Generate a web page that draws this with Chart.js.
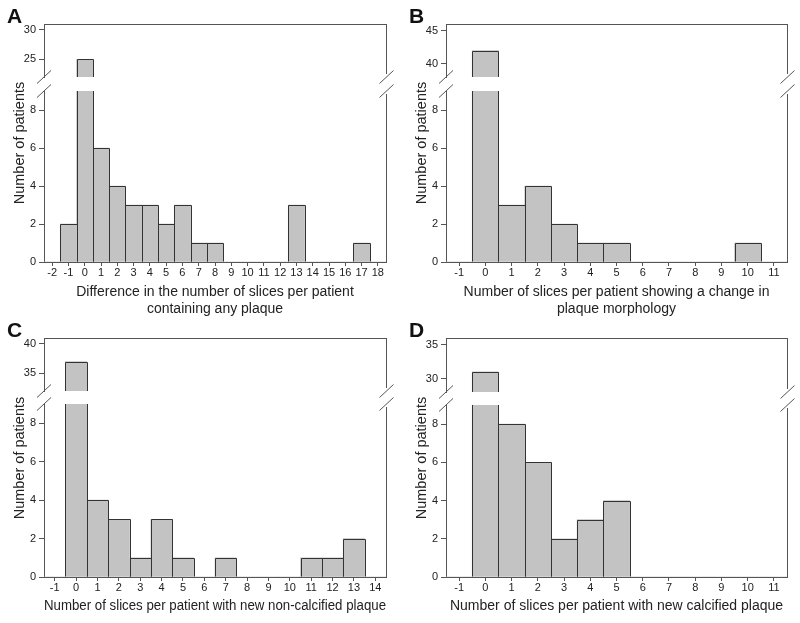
<!DOCTYPE html>
<html>
<head>
<meta charset="utf-8">
<script src="https://cdn.jsdelivr.net/npm/chart.js@4.4.1/dist/chart.umd.min.js"></script>
<style>
  body { margin: 0; background: #fff; }
  #page { position: relative; width: 800px; height: 623px; overflow: hidden; font-family: "Liberation Sans", Arial, sans-serif; }
  canvas { position: absolute; }
  .letter { position: absolute; font-size: 21px; font-weight: bold; line-height: 21px; color: #111; }
  .ytitle { position: absolute; font-size: 14.5px; color: #222; white-space: nowrap; transform: translate(-50%, -50%) rotate(-90deg); }
</style>
</head>
<body>
<div id="page"></div>
<script>
// Histograms of slice counts per patient, four panels with broken y axes

// Panel A
const binsA = ['-2', '-1', '0', '1', '2', '3', '4', '5', '6', '7', '8', '9', '10', '11', '12', '13', '14', '15', '16', '17', '18'];
const patientsA = [0, 2, 25, 6, 4, 3, 3, 2, 3, 1, 1, 0, 0, 0, 0, 3, 0, 0, 0, 1, 0];
const titleA = ['Difference in the number of slices per patient', 'containing any plaque'];

// Panel B
const binsB = ['-1', '0', '1', '2', '3', '4', '5', '6', '7', '8', '9', '10', '11'];
const patientsB = [0, 42, 3, 4, 2, 1, 1, 0, 0, 0, 0, 1, 0];
const titleB = ['Number of slices per patient showing a change in', 'plaque morphology'];

// Panel C
const binsC = ['-1', '0', '1', '2', '3', '4', '5', '6', '7', '8', '9', '10', '11', '12', '13', '14'];
const patientsC = [0, 37, 4, 3, 1, 3, 1, 0, 1, 0, 0, 0, 1, 1, 2, 0];
const titleC = 'Number of slices per patient with new non-calcified plaque';

// Panel D
const binsD = ['-1', '0', '1', '2', '3', '4', '5', '6', '7', '8', '9', '10', '11'];
const patientsD = [0, 31, 8, 6, 2, 3, 4, 0, 0, 0, 0, 0, 0];
const titleD = 'Number of slices per patient with new calcified plaque';

const yTitle = 'Number of patients';

const FILL = '#c3c3c3';
const EDGE = '#333333';
const AXIS = '#555555';
const TEXT = '#222222';
const FONT = '"Liberation Sans", Arial, sans-serif';

const Y_W = 40;   // fixed width of the y axis area
const PAD_R = 10; // room for the break marks on the right
const PAD_V = 8;  // room for the break marks above/below

// frame lines (top / right) and the // break marks
const framePlugin = {
  id: 'panelFrame',
  afterDraw(chart, args, o) {
    const c = chart.ctx;
    const a = chart.chartArea;
    const rx = Math.round(a.right) + 0.5;
    c.save();
    c.strokeStyle = AXIS;
    c.lineWidth = 1;
    c.beginPath();
    let y;
    if (o.part === 'upper') {
      c.moveTo(a.left, a.top + 0.5);
      c.lineTo(rx, a.top + 0.5);
      c.moveTo(rx, a.top);
      c.lineTo(rx, a.bottom - 3);
      y = a.bottom;
    } else {
      c.moveTo(rx, a.top + 3);
      c.lineTo(rx, a.bottom);
      y = a.top;
    }
    [a.left, rx].forEach(x => {
      c.moveTo(x - 7, y + 6.5);
      c.lineTo(x + 7, y - 6.5);
    });
    c.stroke();
    c.restore();
  }
};

// crisp 1px outlines on the bars, snapped to the pixel grid
const outlinePlugin = {
  id: 'barOutline',
  afterDatasetsDraw(chart) {
    const c = chart.ctx;
    const a = chart.chartArea;
    const values = chart.data.datasets[0].data;
    c.save();
    c.beginPath();
    c.rect(a.left, a.top, a.right - a.left, a.bottom - a.top);
    c.clip();
    c.strokeStyle = EDGE;
    c.lineWidth = 1;
    chart.getDatasetMeta(0).data.forEach((bar, i) => {
      if (!values[i]) return;
      const p = bar.getProps(['x', 'y', 'base', 'width'], true);
      const x0 = Math.round(p.x - p.width / 2) + 0.5;
      const x1 = Math.round(p.x + p.width / 2) + 0.5;
      const yt = Math.round(p.y) + 0.5;
      c.beginPath();
      c.moveTo(x0, p.base);
      c.lineTo(x0, yt);
      c.lineTo(x1, yt);
      c.lineTo(x1, p.base);
      c.stroke();
    });
    c.restore();
  }
};

function barSet(counts) {
  return {
    data: counts,
    backgroundColor: FILL,
    borderWidth: 0,
    barPercentage: 1,
    categoryPercentage: 1,
    clip: 0
  };
}

function yScale(min, max, step) {
  return {
    min: min,
    max: max,
    border: { color: AXIS },
    grid: { drawOnChartArea: false, tickLength: 5, color: AXIS },
    ticks: { stepSize: step, includeBounds: false, color: TEXT, padding: 3, font: { family: FONT, size: 11 } },
    afterFit: s => { s.width = Y_W; s.paddingTop = 0; s.paddingBottom = 0; }
  };
}

function addCanvas(left, top, w, h) {
  const cv = document.createElement('canvas');
  cv.width = w;
  cv.height = h;
  cv.style.left = left + 'px';
  cv.style.top = top + 'px';
  cv.style.width = w + 'px';
  cv.style.height = h + 'px';
  document.getElementById('page').appendChild(cv);
  return cv.getContext('2d');
}

function addText(cls, text, left, top) {
  const d = document.createElement('div');
  d.className = cls;
  d.textContent = text;
  d.style.left = left + 'px';
  d.style.top = top + 'px';
  document.getElementById('page').appendChild(d);
}

// p: L,R frame edges; T top; Ub bottom of upper part; Lt top of lower part; B x axis; H x axis height
function makePanel(p) {
  const left = p.L - Y_W;
  const w = p.R - left + PAD_R;

  new Chart(addCanvas(left, p.T - 1, w, p.Ub - p.T + 1 + PAD_V), {
    type: 'bar',
    data: { labels: p.bins, datasets: [barSet(p.counts)] },
    options: {
      responsive: false,
      animation: false,
      events: [],
      layout: { padding: { top: 1, bottom: PAD_V, right: PAD_R, left: 0 } },
      plugins: { legend: { display: false }, tooltip: { enabled: false }, panelFrame: { part: 'upper' } },
      scales: {
        x: { display: false, offset: true },
        y: yScale(p.upMin, p.upMax, 5)
      }
    },
    plugins: [outlinePlugin, framePlugin]
  });

  new Chart(addCanvas(left, p.Lt - PAD_V, w, p.B - p.Lt + PAD_V + p.H), {
    type: 'bar',
    data: { labels: p.bins, datasets: [barSet(p.counts)] },
    options: {
      responsive: false,
      animation: false,
      events: [],
      layout: { padding: { top: PAD_V, bottom: 0, right: PAD_R, left: 0 } },
      plugins: { legend: { display: false }, tooltip: { enabled: false }, panelFrame: { part: 'lower' } },
      scales: {
        x: {
          offset: true,
          border: { color: AXIS },
          grid: { offset: false, drawOnChartArea: false, tickLength: 4, color: AXIS },
          ticks: { color: TEXT, padding: 0, maxRotation: 0, autoSkip: false, font: { family: FONT, size: 11 } },
          title: { display: true, text: p.title, color: TEXT, padding: 0, font: { family: FONT, size: 14, lineHeight: 1.21 } },
          afterFit: s => { s.height = p.H; s.paddingLeft = 0; s.paddingRight = 0; }
        },
        y: yScale(0, 9, 2)
      }
    },
    plugins: [outlinePlugin, framePlugin]
  });

  addText('ytitle', yTitle, p.L - 25, (p.T + p.B) / 2);
  addText('letter', p.letter, p.L - 37, p.T - 19);
}

makePanel({ letter: 'A', bins: binsA, counts: patientsA, title: titleA, upMin: 22, upMax: 31,
  L: 44, R: 386, T: 24, Ub: 77, Lt: 91, B: 262, H: 56 });
makePanel({ letter: 'B', bins: binsB, counts: patientsB, title: titleB, upMin: 38, upMax: 46,
  L: 446, R: 787, T: 24, Ub: 77, Lt: 91, B: 262, H: 56 });
makePanel({ letter: 'C', bins: binsC, counts: patientsC, title: titleC, upMin: 32, upMax: 41,
  L: 44, R: 386, T: 338, Ub: 391, Lt: 404, B: 577, H: 38 });
makePanel({ letter: 'D', bins: binsD, counts: patientsD, title: titleD, upMin: 28, upMax: 36,
  L: 446, R: 787, T: 338, Ub: 392, Lt: 405, B: 577, H: 38 });
</script>
</body>
</html>
